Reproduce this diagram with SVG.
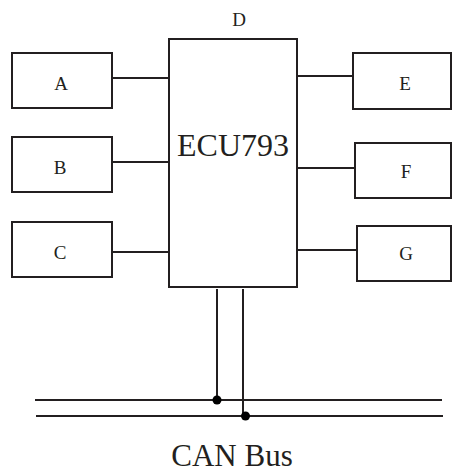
<svg xmlns="http://www.w3.org/2000/svg" width="452" height="473" viewBox="0 0 452 473">
<style>
.box{fill:#fff;stroke:#231f20;stroke-width:2}
.ln{stroke:#231f20;stroke-width:2;fill:none}
.t{font-family:"Liberation Serif",serif;fill:#231f20;text-anchor:middle}
.s{font-size:19px}
</style>
<rect width="452" height="473" fill="#fff"/>
<g id="connectors">
<line class="ln" x1="112" y1="78" x2="169" y2="78"/>
<line class="ln" x1="112" y1="162" x2="169" y2="162"/>
<line class="ln" x1="112" y1="252" x2="169" y2="252"/>
<line class="ln" x1="296" y1="76" x2="353" y2="76"/>
<line class="ln" x1="297" y1="168" x2="355" y2="168"/>
<line class="ln" x1="297" y1="250" x2="357" y2="250"/>
<line class="ln" x1="217" y1="289" x2="217" y2="400"/>
<line class="ln" x1="243" y1="289" x2="243" y2="416"/>
<line class="ln" x1="35" y1="400" x2="442" y2="400"/>
<line class="ln" x1="36" y1="416" x2="443" y2="416"/>
<circle cx="217" cy="400" r="4.5" fill="#000"/>
<circle cx="245.5" cy="416" r="4.5" fill="#000"/>
</g>
<g id="A"><rect class="box" x="12" y="53" width="100" height="55"/><text class="t s" x="61" y="90">A</text></g>
<g id="B"><rect class="box" x="12" y="137" width="100" height="55"/><text class="t s" x="60" y="174">B</text></g>
<g id="C"><rect class="box" x="12" y="222" width="100" height="55"/><text class="t s" x="60" y="259">C</text></g>
<g id="D"><rect class="box" x="169" y="39" width="128" height="248"/><text class="t s" x="239" y="26">D</text><text class="t" x="233" y="156" font-size="32">ECU793</text></g>
<g id="E"><rect class="box" x="353" y="53" width="98" height="56"/><text class="t s" x="405" y="90">E</text></g>
<g id="F"><rect class="box" x="355" y="143" width="96" height="55"/><text class="t s" x="406" y="178">F</text></g>
<g id="G"><rect class="box" x="357" y="226" width="94" height="55"/><text class="t s" x="406" y="260">G</text></g>
<text class="t" x="232" y="466" font-size="31">CAN Bus</text>
</svg>
